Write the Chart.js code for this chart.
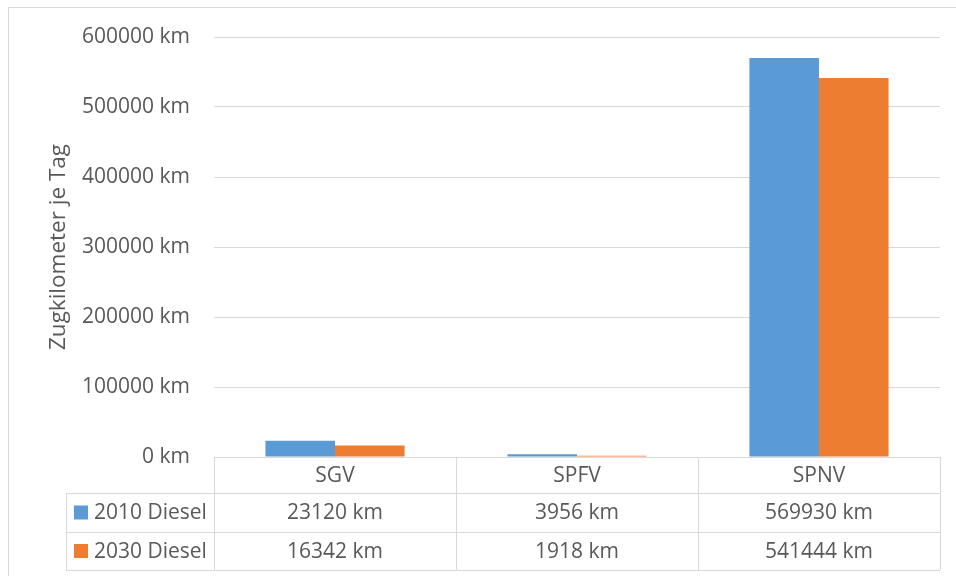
<!DOCTYPE html>
<html>
<head>
<meta charset="utf-8">
<script src="https://cdn.jsdelivr.net/npm/chart.js@4"></script>
<style>
  html, body { margin: 0; padding: 0; background: #fff; }
  #wrap { width: 956px; height: 576px; }
</style>
</head>
<body>
<div id="wrap"><canvas id="myChart" width="956" height="576"></canvas></div>
<script>
// Daten
var categories = ['SGV', 'SPFV', 'SPNV'];
var seriesNames = ['2010 Diesel', '2030 Diesel'];
var diesel2010 = [23120, 3956, 569930];
var diesel2030 = [16342, 1918, 541444];
var yMax = 600000;
var yStep = 100000;

var textColor = '#595959';
var lineColor = '#d9d9d9';
var colors = ['#5b9bd5', '#ed7d31'];
var fontFamily = '"Open Sans", sans-serif';

function km(v) { return v + ' km'; }

// Rahmen um das ganze Diagramm
var frame = {
  id: 'frame',
  afterDraw: function(chart) {
    var ctx = chart.ctx;
    ctx.save();
    ctx.strokeStyle = lineColor;
    ctx.lineWidth = 1;
    ctx.strokeRect(8.5, 7.5, 1000, 1000);
    ctx.restore();
  }
};

// Datentabelle unter dem Diagramm
var dataTable = {
  id: 'dataTable',
  afterDraw: function(chart) {
    var ctx = chart.ctx;
    var area = chart.chartArea;
    var x = chart.scales.x;
    var colW = (area.right - area.left) / categories.length;
    var legendLeft = 66;
    var rows = [area.bottom, 493, 532, 570];
    var series = [diesel2010, diesel2030];

    ctx.save();
    ctx.strokeStyle = lineColor;
    ctx.lineWidth = 1;
    ctx.beginPath();
    // horizontale Linien
    ctx.moveTo(area.left, rows[0] + 0.5); ctx.lineTo(area.right, rows[0] + 0.5);
    for (var r = 1; r < rows.length; r++) {
      ctx.moveTo(legendLeft, rows[r] + 0.5); ctx.lineTo(area.right, rows[r] + 0.5);
    }
    // vertikale Linien
    ctx.moveTo(legendLeft + 0.5, rows[1]); ctx.lineTo(legendLeft + 0.5, rows[3]);
    for (var c = 0; c <= categories.length; c++) {
      var cx = Math.round(area.left + c * colW) + 0.5;
      ctx.moveTo(cx, rows[0]); ctx.lineTo(cx, rows[3]);
    }
    ctx.stroke();

    ctx.font = '21px ' + fontFamily;
    ctx.fillStyle = textColor;
    ctx.textAlign = 'center';
    ctx.textBaseline = 'middle';
    for (var i = 0; i < categories.length; i++) {
      var px = x.getPixelForValue(i);
      ctx.fillText(categories[i], px, (rows[0] + rows[1]) / 2 + 1);
      for (var s = 0; s < series.length; s++) {
        ctx.fillText(km(series[s][i]), px, (rows[s + 1] + rows[s + 2]) / 2 + 1);
      }
    }
    // Legende in der Tabelle
    ctx.textAlign = 'left';
    for (var s = 0; s < seriesNames.length; s++) {
      var cy = (rows[s + 1] + rows[s + 2]) / 2;
      ctx.fillStyle = colors[s];
      ctx.fillRect(74, cy - 7, 14, 14);
      ctx.fillStyle = textColor;
      ctx.fillText(seriesNames[s], 94, cy + 1);
    }
    ctx.restore();
  }
};

var ctx = document.getElementById('myChart').getContext('2d');
var chart = new Chart(ctx, {
  type: 'bar',
  data: {
    labels: categories,
    datasets: [{
      label: seriesNames[0],
      data: diesel2010,
      backgroundColor: colors[0]
    }, {
      label: seriesNames[1],
      data: diesel2030,
      backgroundColor: colors[1]
    }]
  },
  options: {
    responsive: false,
    animation: false,
    layout: {
      padding: { left: 0, top: 37, right: 16, bottom: 119 }
    },
    datasets: {
      bar: { categoryPercentage: 0.575, barPercentage: 1 }
    },
    plugins: {
      legend: { display: false },
      tooltip: { enabled: false }
    },
    scales: {
      x: { display: false },
      y: {
        min: 0,
        max: yMax,
        afterFit: function(scale) { scale.width = 214; },
        ticks: {
          stepSize: yStep,
          padding: 24,
          color: textColor,
          font: { family: fontFamily, size: 21 },
          callback: function(v) { return km(v); }
        },
        grid: { color: lineColor, lineWidth: 1, drawTicks: false },
        border: { display: false },
        title: {
          display: true,
          text: 'Zugkilometer je Tag',
          color: textColor,
          font: { family: fontFamily, size: 22.5 },
          padding: { top: 45, bottom: 0 }
        }
      }
    }
  },
  plugins: [frame, dataTable]
});
</script>
</body>
</html>
